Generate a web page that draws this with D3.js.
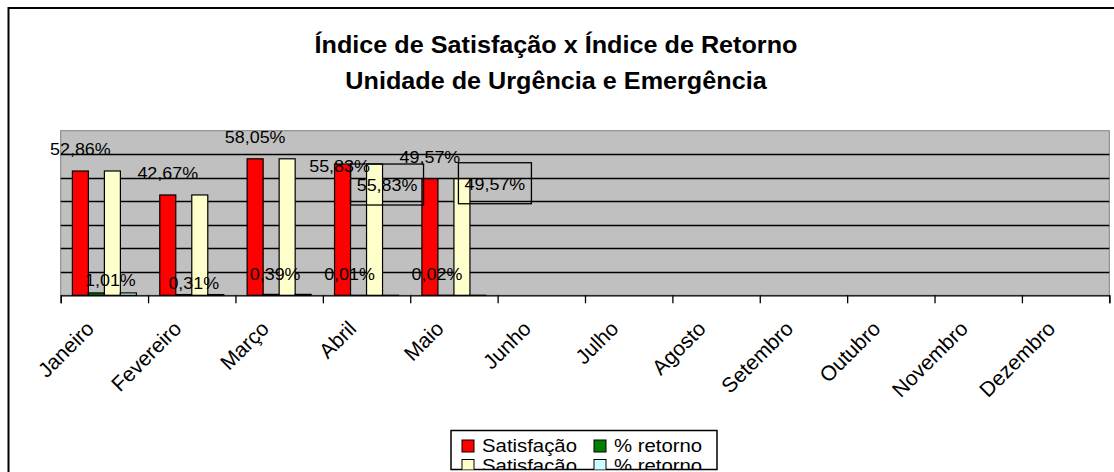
<!DOCTYPE html>
<html>
<head>
<meta charset="utf-8">
<script src="https://d3js.org/d3.v7.min.js"></script>
<style>
  body { margin: 0; background: #fff; }
  text { font-family: "Liberation Sans", Arial, sans-serif; fill: #000; }
</style>
</head>
<body>
<script type="text/javascript">

  // data
  var months = ["Janeiro", "Fevereiro", "Março", "Abril", "Maio", "Junho",
                "Julho", "Agosto", "Setembro", "Outubro", "Novembro", "Dezembro"];
  var satisfacao = [52.86, 42.67, 58.05, 55.83, 49.57];
  var retorno = [1.01, 0.31, 0.39, 0.01, 0.02];
  var seriesNames = ["Satisfação", "% retorno", "Satisfação", "% retorno"];
  var seriesColors = ["#ff0000", "#008000", "#ffffcc", "#ccffff"];
  var yTicks = [0, 10, 20, 30, 40, 50, 60, 70];

  var w = 1114, h = 472;
  var fmt = function(v) { return v.toFixed(2).replace(".", ",") + "%"; };

  var svg = d3.select("body").append("svg")
      .attr("width", w)
      .attr("height", h);

  svg.append("rect").attr("width", w).attr("height", h).attr("fill", "#fff");

  // chart frame (right and bottom edges fall outside the window)
  svg.append("rect")
      .attr("x", 8.5).attr("y", 8)
      .attr("width", 1130).attr("height", 500)
      .attr("fill", "none")
      .attr("stroke", "#000")
      .attr("stroke-width", 2);

  // helper for the horizontally stretched text of the original
  function label(parent, x, y, str, size, sx, bold) {
    return parent.append("text")
      .attr("transform", "translate(" + x + "," + y + ") scale(" + sx + ",1)")
      .attr("text-anchor", "middle")
      .style("font-size", size + "px")
      .style("font-weight", bold ? "bold" : "normal")
      .text(str);
  }

  label(svg, 556, 53, "Índice de Satisfação x Índice de Retorno", 24, 1.05, true);
  label(svg, 556, 89, "Unidade de Urgência e Emergência", 24, 1.05, true);

  var plot = {left: 60.7, right: 1109.3, top: 130.7, bottom: 295.3};

  var x = d3.scaleBand().domain(months).range([plot.left, plot.right]);
  var xs = d3.scaleBand().domain(d3.range(4)).range([0, x.bandwidth()]).paddingOuter(0.73);
  var y = d3.scaleLinear().domain([0, 70]).range([plot.bottom, plot.top]);

  var g = svg.append("g");

  g.append("rect")
      .attr("x", plot.left).attr("y", plot.top)
      .attr("width", plot.right - plot.left)
      .attr("height", plot.bottom - plot.top)
      .attr("fill", "#c0c0c0")
      .attr("stroke", "#808080");

  g.selectAll(".grid")
      .data(yTicks.slice(1, -1))
      .enter().append("line")
      .attr("x1", plot.left).attr("x2", plot.right)
      .attr("y1", function(d) { return Math.round(y(d)) + 0.5; })
      .attr("y2", function(d) { return Math.round(y(d)) + 0.5; })
      .attr("stroke", "#000")
      .attr("stroke-width", 1.3);

  // bars: series 0/2 = satisfação, 1/3 = retorno
  var rows = [];
  satisfacao.forEach(function(v, i) {
    [v, retorno[i], v, retorno[i]].forEach(function(val, s) {
      rows.push({m: months[i], s: s, v: val});
    });
  });

  g.selectAll(".bar")
      .data(rows)
      .enter().append("rect")
      .attr("x", function(d) { return x(d.m) + xs(d.s); })
      .attr("y", function(d) { return y(d.v); })
      .attr("width", xs.bandwidth())
      .attr("height", function(d) { return y(0) - y(d.v); })
      .attr("fill", function(d) { return seriesColors[d.s]; })
      .attr("stroke", "#000")
      .attr("stroke-width", 1.2);

  // x axis
  svg.append("g")
      .attr("transform", "translate(0," + plot.bottom + ")")
      .call(d3.axisBottom(d3.scaleLinear().domain([0, 12]).range([plot.left, plot.right]))
        .ticks(12).tickSize(8).tickFormat(""))
      .call(function(a) {
        a.select(".domain").attr("stroke", "#000").attr("stroke-width", 1.3);
        a.selectAll(".tick line").attr("stroke", "#000").attr("stroke-width", 1.3);
      });

  svg.selectAll(".month")
      .data(months)
      .enter().append("text")
      .attr("transform", function(d) {
        return "translate(" + (x(d) + x.bandwidth() / 2 - 9) + ",330) rotate(-45)";
      })
      .attr("text-anchor", "end")
      .style("font-size", "21px")
      .text(function(d) { return d; });

  // data labels (some were dragged by hand in the original)
  var redNudge = {3: [-3, 24]};
  satisfacao.forEach(function(v, i) {
    var n = redNudge[i] || [0, 0];
    label(svg, x(months[i]) + xs(0) + xs.bandwidth() / 2 + n[0], y(v) - 16 + n[1], fmt(v), 16, 1.12);
  });

  var retNudge = [[14, 6], [10, 9], [4, 0], [-9, 0], [-9, 0]];
  retorno.forEach(function(v, i) {
    label(svg, x(months[i]) + xs(1) + xs.bandwidth() / 2 + retNudge[i][0], 280 + retNudge[i][1], fmt(v), 16, 1.12);
  });

  // boxed labels of the second satisfação series
  var boxed = {3: [12.5, 0], 4: [33, -16]};
  Object.keys(boxed).forEach(function(k) {
    var i = +k, cx = x(months[i]) + xs(2) + xs.bandwidth() / 2 + boxed[k][0];
    var top = y(satisfacao[i]) + boxed[k][1];
    svg.append("rect")
        .attr("x", cx - 36.5).attr("y", top)
        .attr("width", 73).attr("height", 41)
        .attr("fill", "none").attr("stroke", "#000").attr("stroke-width", 1.3);
    label(svg, cx, top + 27, fmt(satisfacao[i]), 16, 1.12);
  });

  // legend, clipped like the original
  var lg = {x: 451, y: 430.5, w: 266, h: 39};
  svg.append("clipPath").attr("id", "lgclip")
    .append("rect").attr("x", lg.x).attr("y", lg.y).attr("width", lg.w).attr("height", lg.h);
  svg.append("rect")
      .attr("x", lg.x).attr("y", lg.y).attr("width", lg.w).attr("height", lg.h)
      .attr("fill", "#fff").attr("stroke", "#000").attr("stroke-width", 1.5);
  var legend = svg.append("g").attr("clip-path", "url(#lgclip)");
  seriesNames.forEach(function(name, s) {
    var lx = lg.x + 11 + (s % 2) * 132, ly = lg.y + 9.5 + Math.floor(s / 2) * 19.5;
    legend.append("rect")
        .attr("x", lx).attr("y", ly).attr("width", 12).attr("height", 12)
        .attr("fill", seriesColors[s]).attr("stroke", "#000");
    legend.append("text")
        .attr("transform", "translate(" + (lx + 20) + "," + (ly + 12) + ") scale(1.1,1)")
        .style("font-size", "18.5px")
        .text(name);
  });

</script>
</body>
</html>
